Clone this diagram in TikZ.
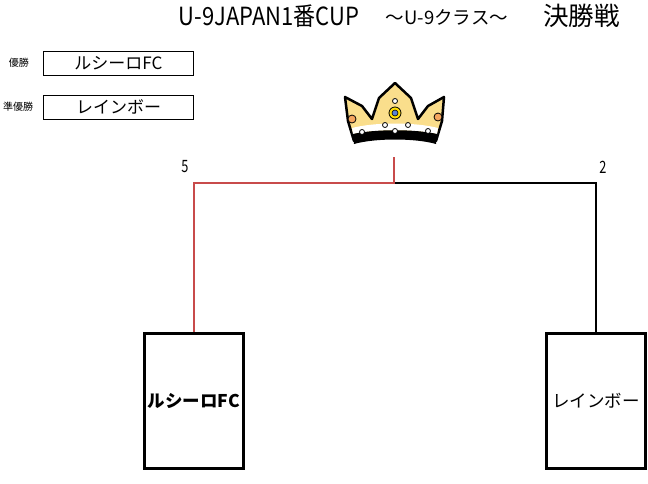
\documentclass[tikz,border=0pt]{standalone}
\usepackage{fontspec}
\setmainfont{Noto Sans CJK JP}
\usepackage{graphicx}
\usetikzlibrary{positioning}
\definecolor{rougeligne}{RGB}{200,75,75}
\definecolor{orcouronne}{RGB}{250,222,140}
\definecolor{perleorange}{RGB}{245,165,95}
\definecolor{bleujoyau}{RGB}{90,130,210}
\tikzstyle{equipe} = [rectangle,
minimum width=99pt,
minimum height=135pt,
inner sep=0pt,
line width=3pt,
draw=black,
font=\fontsize{17.5}{17.5}\selectfont]
\tikzstyle{resultat} = [rectangle,
minimum width=150pt,
minimum height=24pt,
line width=1pt,
draw=black,
font=\fontsize{17}{17}\selectfont]
\tikzstyle{rang} = [font=\fontsize{10}{10}\selectfont]
\tikzstyle{score} = [font=\fontsize{17}{17}\selectfont]
\tikzstyle{gagnant} = [line width=2pt, draw=rougeligne]
\tikzstyle{perdant} = [line width=1.3pt, draw=black]
\tikzstyle{perle} = [fill=white, draw=black, line width=0.8pt]

\begin{document}
\begin{tikzpicture}[x=1pt,y=-1pt]
\useasboundingbox (0,0) rectangle (648,483);

% Titre
\node (titre) at (269,16) {\fontsize{25}{25}\selectfont\scalebox{0.88}[1]{U-9JAPAN1番CUP}};
\node (classe) at (447,17) {\fontsize{18.5}{18.5}\selectfont ～U-9クラス～};
\node (finale) at (581.5,16) {\fontsize{25.5}{25.5}\selectfont 決勝戦};

% Résultats
\node[rang] (premier) at (19,63) {優勝};
\node[rang] (second) at (18,107) {準優勝};
\node[resultat] (vainqueur) at (118.5,63.5) {ルシーロFC};
\node[resultat] (finaliste) at (118.5,107) {レインボー};

% Couronne
\filldraw[fill=orcouronne, draw=black, line width=2.5pt, line join=round]
(354,141) -- (348,121) -- (345,97) -- (362,106) -- (372,119) -- (379,98)
-- (395,83) -- (411,98) -- (418,119) -- (428,106) -- (444,97) -- (442,121)
-- (436,141) .. controls (415,136) and (375,136) .. cycle;
\fill[white] (352,128) .. controls (375,122) and (415,122) .. (438,128)
-- (437,134) .. controls (415,129) and (375,129) .. (353,134) -- cycle;
\fill[black] (353,134) .. controls (375,129) and (415,129) .. (437,134)
-- (436,144) .. controls (415,138) and (375,138) .. (354,144) -- cycle;
\filldraw[fill=yellow!80!orange, draw=black, line width=0.8pt] (395,113) circle (6);
\filldraw[fill=bleujoyau, draw=black, line width=0.6pt] (395,113) circle (3);
\filldraw[fill=perleorange, draw=black, line width=0.8pt] (352,119) circle (4);
\filldraw[fill=perleorange, draw=black, line width=0.8pt] (438,117) circle (4);
\foreach \px/\py in {395/101, 385/125, 408/125, 395/131, 362/132, 428/131}
  \filldraw[perle] (\px,\py) circle (2.5);

% Tableau
\node[equipe, font=\fontsize{17.5}{17.5}\selectfont\bfseries] (gauche) at (194,401) {ルシーロFC};
\node[equipe] (droite) at (596,401) {レインボー};
\coordinate (sommet) at (394,157);
\coordinate (jonction) at (394,183);

\draw[perdant] (jonction) -| (droite.north);
\draw[gagnant] (sommet) -- (jonction) -| (gauche.north);

% Scores
\node[score] (scoregauche) at (185,167) {\scalebox{0.75}[1]{5}};
\node[score] (scoredroite) at (603,167) {\scalebox{0.75}[1]{2}};

\end{tikzpicture}
\end{document}
